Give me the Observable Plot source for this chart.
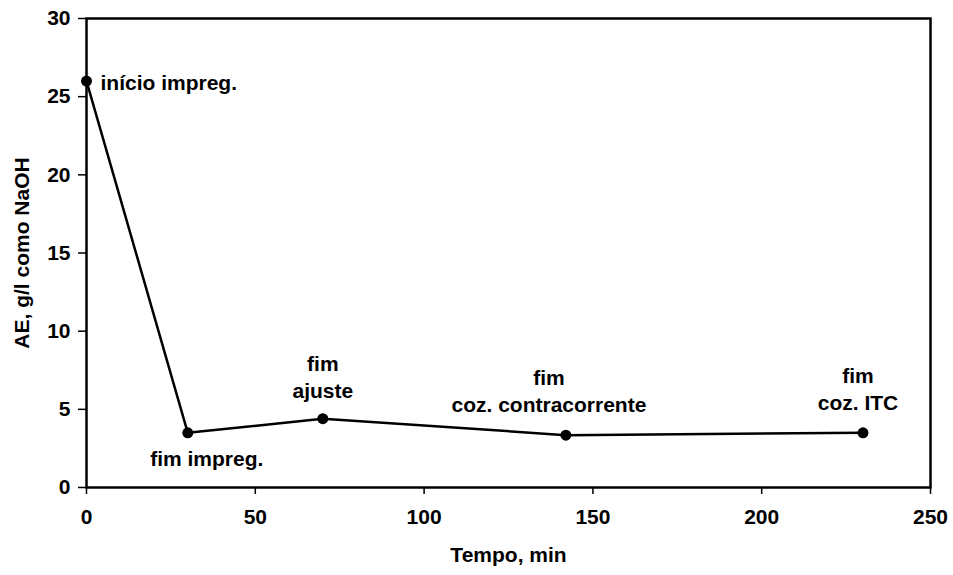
<!DOCTYPE html>
<html>
<head>
<meta charset="utf-8">
<script src="https://cdn.jsdelivr.net/npm/d3@7"></script>
<script src="https://cdn.jsdelivr.net/npm/@observablehq/plot@0.6"></script>
<style>
  html, body { margin: 0; padding: 0; background: #fff; }
  #chart svg { font-family: "Liberation Sans", Arial, sans-serif; font-weight: bold; }
</style>
</head>
<body>
<div id="chart"></div>
<script>
const times = [0, 30, 70, 142, 230];
const values = [26, 3.5, 4.4, 3.35, 3.5];
const labels = ["início impreg.", "fim impreg.", "fim\najuste", "fim\ncoz. contracorrente", "fim\ncoz. ITC"];
const xTicks = [0, 50, 100, 150, 200, 250];
const yTicks = [0, 5, 10, 15, 20, 25, 30];

const data = times.map((t, i) => ({t, v: values[i], label: labels[i]}));

function lab(i, opts) {
  return Plot.text([data[i]], {x: "t", y: "v", text: "label", fill: "#000", fontSize: 21, fontWeight: "bold", lineHeight: 1.28, ...opts});
}

const chart = Plot.plot({
  width: 953,
  height: 575,
  marginLeft: 86,
  marginRight: 23,
  marginTop: 18,
  marginBottom: 88,
  style: {fontSize: "21px", fontFamily: "Liberation Sans, Arial, sans-serif", fontWeight: "bold", background: "#fff", color: "#000"},
  x: {domain: [0, 250]},
  y: {domain: [0, 30]},
  marks: [
    Plot.frame({stroke: "#000", strokeWidth: 2.5}),
    Plot.axisX({ticks: xTicks, tickSize: 7, tickPadding: 15, tickFormat: d => String(d), label: "Tempo, min", labelAnchor: "center", labelArrow: "none", labelOffset: 74, fontSize: 21, fontWeight: "bold", strokeWidth: 1.5}),
    Plot.axisY({ticks: yTicks, tickSize: 8, tickPadding: 8, tickFormat: d => String(d), label: "AE, g/l como NaOH", labelAnchor: "center", labelArrow: "none", labelOffset: 72, fontSize: 21, fontWeight: "bold", strokeWidth: 1.5}),
    Plot.line(data, {x: "t", y: "v", stroke: "#000", strokeWidth: 2.5}),
    Plot.dot(data, {x: "t", y: "v", r: 5.5, fill: "#000", stroke: "none"}),
    lab(0, {textAnchor: "start", dx: 14, dy: 0}),
    lab(1, {textAnchor: "middle", dx: 19, dy: 25}),
    lab(2, {textAnchor: "middle", lineAnchor: "bottom", dx: 0, dy: -21}),
    lab(3, {textAnchor: "middle", lineAnchor: "bottom", dx: -17, dy: -23}),
    lab(4, {textAnchor: "middle", lineAnchor: "bottom", dx: -5, dy: -23})
  ]
});
document.getElementById("chart").appendChild(chart);
</script>
</body>
</html>
